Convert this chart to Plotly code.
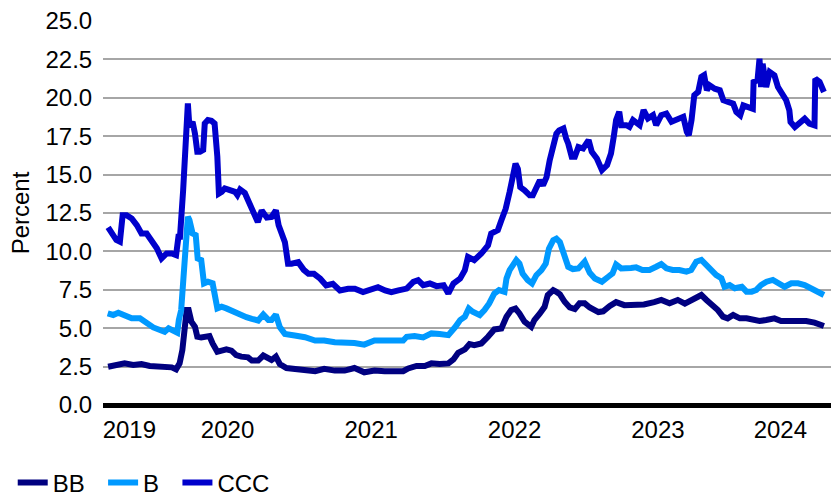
import pandas as pd
import plotly.graph_objects as go

# --- data -----------------------------------------------------------------
bb_dates = [
    "2019-09-02", "2019-09-23", "2019-10-14", "2019-11-05", "2019-11-26", "2019-12-17",
    "2020-01-08", "2020-01-29", "2020-02-11", "2020-02-22", "2020-03-02", "2020-03-09",
    "2020-03-15", "2020-03-20", "2020-03-25", "2020-04-01", "2020-04-10", "2020-04-16",
    "2020-04-26", "2020-05-09", "2020-05-17", "2020-05-25", "2020-06-06", "2020-06-17",
    "2020-06-29", "2020-07-12", "2020-07-24", "2020-08-06", "2020-08-23", "2020-09-02",
    "2020-09-18", "2020-10-01", "2020-10-14", "2020-10-22", "2020-11-02", "2020-11-12",
    "2020-11-29", "2020-12-20", "2021-01-15", "2021-02-10", "2021-03-05", "2021-04-01",
    "2021-04-26", "2021-05-21", "2021-06-15", "2021-07-11", "2021-08-06", "2021-09-01",
    "2021-09-22", "2021-10-05", "2021-10-26", "2021-11-16", "2021-12-03", "2021-12-24",
    "2022-01-15", "2022-01-28", "2022-02-09", "2022-02-26", "2022-03-10", "2022-03-22",
    "2022-04-09", "2022-04-26", "2022-05-12", "2022-05-30", "2022-06-12", "2022-06-24",
    "2022-07-05", "2022-07-15", "2022-07-28", "2022-08-14", "2022-08-22", "2022-09-05",
    "2022-09-17", "2022-09-25", "2022-10-09", "2022-10-17", "2022-10-26", "2022-11-07",
    "2022-11-20", "2022-12-03", "2022-12-15", "2022-12-28", "2023-01-10", "2023-02-01",
    "2023-02-13", "2023-03-02", "2023-03-18", "2023-04-08", "2023-05-03", "2023-05-28",
    "2023-06-23", "2023-07-11", "2023-08-01", "2023-08-22", "2023-09-09", "2023-09-25",
    "2023-10-12", "2023-10-21", "2023-11-03", "2023-11-19", "2023-12-02", "2023-12-15",
    "2023-12-27", "2024-01-10", "2024-01-27", "2024-02-13", "2024-02-29", "2024-03-17",
    "2024-04-03", "2024-04-24", "2024-05-11", "2024-06-02", "2024-06-23", "2024-07-14",
    "2024-08-04", "2024-08-28",
]
bb_values = [
    2.49, 2.60, 2.71, 2.60, 2.67, 2.54,
    2.54, 2.54, 2.45, 2.32, 2.71, 3.58,
    5.31, 6.18, 6.18, 5.42, 5.10, 4.45,
    4.40, 4.45, 4.49, 4.01, 3.47, 3.54,
    3.62, 3.54, 3.25, 3.15, 3.10, 2.89,
    2.89, 3.22, 3.00, 2.93, 3.15, 2.67,
    2.41, 2.35, 2.28, 2.20, 2.35, 2.24,
    2.24, 2.41, 2.13, 2.24, 2.20, 2.20,
    2.20, 2.38, 2.54, 2.54, 2.71, 2.67,
    2.71, 2.97, 3.40, 3.62, 3.97, 3.90,
    4.01, 4.44, 4.92, 4.98, 5.74, 6.18,
    6.28, 5.96, 5.42, 5.09, 5.53, 5.96,
    6.39, 7.15, 7.48, 7.37, 7.20, 6.72,
    6.35, 6.25, 6.62, 6.62, 6.35, 6.05,
    6.10, 6.45, 6.70, 6.50, 6.51, 6.55,
    6.70, 6.84, 6.62, 6.84, 6.60, 6.84,
    7.05, 7.16, 6.84, 6.51, 6.18, 5.75,
    5.64, 5.86, 5.64, 5.64, 5.53, 5.47,
    5.53, 5.64, 5.47, 5.50, 5.53, 5.47,
    5.36, 5.14,
]

b_dates = [
    "2019-09-01", "2019-09-15", "2019-09-28", "2019-10-14", "2019-11-01", "2019-11-22",
    "2019-12-09", "2019-12-26", "2020-01-12", "2020-01-24", "2020-02-03", "2020-02-15",
    "2020-02-25", "2020-02-29", "2020-03-06", "2020-03-12", "2020-03-17", "2020-03-23",
    "2020-03-27", "2020-04-04", "2020-04-12", "2020-04-17", "2020-04-26", "2020-05-03",
    "2020-05-13", "2020-05-25", "2020-06-06", "2020-06-17", "2020-06-29", "2020-07-16",
    "2020-08-03", "2020-08-19", "2020-09-02", "2020-09-18", "2020-10-01", "2020-10-14",
    "2020-10-22", "2020-11-02", "2020-11-12", "2020-11-25", "2020-12-20", "2021-01-15",
    "2021-02-10", "2021-03-05", "2021-04-01", "2021-04-26", "2021-05-21", "2021-06-15",
    "2021-07-11", "2021-08-06", "2021-09-01", "2021-09-22", "2021-10-01", "2021-10-21",
    "2021-11-12", "2021-12-03", "2021-12-24", "2022-01-15", "2022-02-02", "2022-02-14",
    "2022-02-26", "2022-03-08", "2022-03-18", "2022-04-05", "2022-04-17", "2022-04-29",
    "2022-05-12", "2022-05-24", "2022-06-07", "2022-06-12", "2022-06-20", "2022-06-29",
    "2022-07-07", "2022-07-15", "2022-07-23", "2022-08-05", "2022-08-16", "2022-08-27",
    "2022-09-09", "2022-09-20", "2022-09-28", "2022-10-09", "2022-10-17", "2022-10-26",
    "2022-11-04", "2022-11-16", "2022-11-28", "2022-12-12", "2022-12-28", "2023-01-10",
    "2023-01-23", "2023-02-10", "2023-02-26", "2023-03-09", "2023-03-18", "2023-03-31",
    "2023-04-25", "2023-05-08", "2023-05-24", "2023-06-11", "2023-06-28", "2023-07-11",
    "2023-07-24", "2023-08-09", "2023-08-26", "2023-09-13", "2023-09-25", "2023-10-08",
    "2023-10-21", "2023-11-03", "2023-11-15", "2023-11-28", "2023-12-11", "2023-12-19",
    "2024-01-01", "2024-01-14", "2024-02-01", "2024-02-13", "2024-02-26", "2024-03-09",
    "2024-03-21", "2024-04-04", "2024-04-20", "2024-05-03", "2024-05-20", "2024-06-06",
    "2024-06-23", "2024-07-10", "2024-07-27", "2024-08-12", "2024-08-28",
]
b_values = [
    5.97, 5.86, 6.01, 5.79, 5.64, 5.64,
    5.31, 5.05, 4.88, 4.77, 4.99, 4.84,
    4.71, 5.53, 6.18, 8.35, 10.74, 12.26,
    12.04, 11.17, 11.06, 9.54, 9.44, 7.92,
    8.03, 7.92, 6.29, 6.40, 6.29, 6.07,
    5.86, 5.72, 5.61, 5.50, 5.89, 5.54,
    5.54, 5.89, 5.07, 4.63, 4.52, 4.41,
    4.20, 4.20, 4.09, 4.09, 4.04, 3.93,
    4.20, 4.20, 4.15, 4.20, 4.44, 4.49,
    4.40, 4.66, 4.62, 4.55, 5.09, 5.53,
    5.74, 6.28, 6.07, 5.85, 6.18, 6.61,
    7.26, 7.48, 7.37, 8.23, 8.78, 9.10,
    9.43, 9.21, 8.56, 8.13, 7.91, 8.45,
    8.78, 9.21, 10.18, 10.73, 10.83, 10.60,
    9.76, 9.00, 8.85, 8.89, 9.33, 8.60,
    8.24, 8.03, 8.35, 8.57, 9.15, 8.89,
    8.92, 8.96, 8.79, 8.79, 9.00, 9.18,
    8.90, 8.79, 8.79, 8.68, 8.79, 9.33,
    9.44, 9.11, 8.68, 8.46, 8.25, 7.70,
    7.81, 7.60, 7.70, 7.38, 7.38, 7.49,
    7.81, 8.03, 8.14, 7.92, 7.70, 7.92,
    7.92, 7.81, 7.60, 7.38, 7.16,
]

ccc_dates = [
    "2019-09-02", "2019-09-11", "2019-09-23", "2019-10-02", "2019-10-09", "2019-10-19",
    "2019-11-01", "2019-11-14", "2019-11-26", "2019-12-09", "2019-12-17", "2019-12-26",
    "2020-01-04", "2020-01-16", "2020-01-29", "2020-02-11", "2020-02-22", "2020-02-28",
    "2020-03-03", "2020-03-11", "2020-03-18", "2020-03-23", "2020-03-27", "2020-04-04",
    "2020-04-10", "2020-04-16", "2020-04-23", "2020-05-01", "2020-05-05", "2020-05-13",
    "2020-05-22", "2020-05-30", "2020-06-06", "2020-06-10", "2020-06-17", "2020-06-25",
    "2020-07-08", "2020-07-21", "2020-07-27", "2020-08-03", "2020-08-15", "2020-08-25",
    "2020-09-06", "2020-09-17", "2020-09-27", "2020-10-10", "2020-10-22", "2020-11-02",
    "2020-11-09", "2020-11-17", "2020-11-25", "2020-12-03", "2020-12-12", "2020-12-29",
    "2021-01-12", "2021-01-24", "2021-02-07", "2021-02-23", "2021-03-10", "2021-03-27",
    "2021-04-14", "2021-05-05", "2021-05-22", "2021-06-12", "2021-06-29", "2021-07-20",
    "2021-08-07", "2021-08-23", "2021-09-10", "2021-09-22", "2021-10-01", "2021-10-18",
    "2021-10-30", "2021-11-12", "2021-11-29", "2021-12-16", "2022-01-03", "2022-01-15",
    "2022-01-28", "2022-02-14", "2022-02-26", "2022-03-06", "2022-03-22", "2022-04-09",
    "2022-04-26", "2022-05-04", "2022-05-21", "2022-05-30", "2022-06-10", "2022-06-20",
    "2022-06-29", "2022-07-05", "2022-07-11", "2022-07-17", "2022-07-28", "2022-08-10",
    "2022-08-18", "2022-08-27", "2022-09-05", "2022-09-13", "2022-09-22", "2022-09-30",
    "2022-10-09", "2022-10-17", "2022-10-24", "2022-11-04", "2022-11-11", "2022-11-16",
    "2022-11-25", "2022-12-03", "2022-12-12", "2022-12-24", "2023-01-07", "2023-01-15",
    "2023-01-28", "2023-02-10", "2023-02-23", "2023-03-05", "2023-03-12", "2023-03-18",
    "2023-03-26", "2023-03-31", "2023-04-13", "2023-04-21", "2023-04-30", "2023-05-08",
    "2023-05-17", "2023-05-27", "2023-06-07", "2023-06-20", "2023-06-28", "2023-07-11",
    "2023-07-24", "2023-08-06", "2023-08-19", "2023-09-05", "2023-09-14", "2023-09-19",
    "2023-09-26", "2023-10-03", "2023-10-13", "2023-10-21", "2023-10-28", "2023-11-04",
    "2023-11-11", "2023-11-24", "2023-12-07", "2023-12-16", "2023-12-28", "2024-01-10",
    "2024-01-18", "2024-01-28", "2024-02-05", "2024-02-17", "2024-02-29", "2024-03-02",
    "2024-03-12", "2024-03-17", "2024-03-21", "2024-03-25", "2024-04-03", "2024-04-12",
    "2024-04-24", "2024-05-03", "2024-05-15", "2024-05-24", "2024-06-01", "2024-06-04",
    "2024-06-15", "2024-06-27", "2024-07-10", "2024-07-22", "2024-08-04", "2024-08-06",
    "2024-08-17", "2024-08-28",
]
ccc_values = [
    11.56, 11.17, 10.74, 10.63, 12.36, 12.36,
    12.15, 11.71, 11.17, 11.17, 10.85, 10.63,
    10.20, 9.54, 9.87, 9.87, 9.76, 10.95,
    10.95, 13.99, 17.24, 19.63, 18.11, 18.44,
    17.68, 16.49, 16.49, 16.60, 18.33, 18.55,
    18.50, 18.33, 16.16, 13.77, 13.88, 14.10,
    13.99, 13.88, 13.67, 14.03, 13.80, 13.20,
    12.57, 11.91, 12.67, 12.20, 12.24, 12.67,
    11.70, 11.15, 10.60, 9.20, 9.20, 9.30,
    8.80, 8.54, 8.54, 8.22, 7.78, 7.89,
    7.46, 7.57, 7.57, 7.35, 7.46, 7.67,
    7.46, 7.35, 7.46, 7.50, 7.58, 8.02,
    8.13, 7.80, 7.91, 7.74, 7.80, 7.26,
    7.91, 8.23, 8.78, 9.64, 9.43, 9.86,
    10.40, 11.16, 11.38, 12.03, 12.78, 13.87,
    14.84, 15.71, 15.38, 14.19, 13.98, 13.65,
    13.65, 14.08, 14.63, 14.30, 14.84, 15.93,
    16.79, 17.66, 17.88, 18.01, 17.35, 17.03,
    16.16, 16.16, 16.80, 16.70, 17.25, 16.49,
    16.05, 15.29, 15.62, 16.38, 17.46, 18.55,
    19.09, 18.22, 18.22, 18.11, 18.55, 18.44,
    18.22, 19.20, 18.66, 18.87, 18.22, 18.87,
    18.98, 18.44, 18.55, 18.76, 17.79, 17.57,
    18.55, 20.17, 20.39, 21.37, 21.48, 20.49,
    20.81, 20.59, 20.49, 19.84, 19.73, 19.62,
    19.08, 18.86, 19.51, 19.40, 19.29, 21.03,
    21.14, 22.54, 20.70, 22.22, 20.70, 21.68,
    21.46, 20.70, 20.27, 19.84, 19.18, 18.43,
    18.10, 18.32, 18.64, 18.32, 18.21, 21.24,
    21.03, 20.38,
]

year_labels = ["2019", "2020", "2021", "2022", "2023", "2024"]
y_ticks = [0.0, 2.5, 5.0, 7.5, 10.0, 12.5, 15.0, 17.5, 20.0, 22.5, 25.0]
x_start, x_end = "2019-08-20", "2024-09-15"

# --- styling --------------------------------------------------------------
FONT = "Liberation Sans, Arial, sans-serif"
FS = 24
PAD = "\u00a0\u00a0"  # extra room after each legend label
series = [
    ("BB", bb_dates, bb_values, "#000080"),
    ("B", b_dates, b_values, "#0099FF"),
    ("CCC", ccc_dates, ccc_values, "#0000CC"),
]

# year labels sit in the middle of the visible part of each year
lo_range, hi_range = pd.Timestamp(x_start), pd.Timestamp(x_end)
tick_vals = []
for lab in year_labels:
    y0 = max(pd.Timestamp(f"{lab}-01-01"), lo_range)
    y1 = min(pd.Timestamp(f"{int(lab) + 1}-01-01"), hi_range)
    tick_vals.append(y0 + (y1 - y0) / 2)

fig = go.Figure()
for name, xs, ys, color in series:
    fig.add_trace(go.Scatter(
        x=pd.to_datetime(xs), y=ys, name=name + PAD, mode="lines",
        line=dict(color=color, width=6),
    ))

fig.update_layout(
    width=831, height=497,
    margin=dict(l=103, r=0, t=21, b=92, autoexpand=False),
    paper_bgcolor="white", plot_bgcolor="white",
    font=dict(family=FONT, size=FS, color="black"),
    showlegend=True,
    legend=dict(
        orientation="h", x=-0.124, xanchor="left", y=-0.203, yanchor="middle",
        font=dict(family=FONT, size=FS, color="black"),
        bgcolor="rgba(0,0,0,0)", traceorder="normal",
    ),
    xaxis=dict(
        range=[x_start, x_end], tickmode="array", tickvals=tick_vals,
        ticktext=year_labels, showgrid=False, zeroline=False, showline=False,
        ticks="outside", ticklen=3, tickcolor="rgba(0,0,0,0)",
        tickfont=dict(family=FONT, size=FS, color="black"),
    ),
    yaxis=dict(
        range=[0, 25], tickmode="array", tickvals=y_ticks,
        ticktext=[f"{v:.1f}" for v in y_ticks],
        showgrid=True, gridcolor="#A6A6A6", gridwidth=2,
        zeroline=True, zerolinecolor="black", zerolinewidth=5,
        showline=False,
        ticks="outside", ticklen=5, tickcolor="rgba(0,0,0,0)",
        tickfont=dict(family=FONT, size=FS, color="black"),
        title=dict(text="Percent", standoff=9,
                   font=dict(family=FONT, size=FS, color="black")),
    ),
)

fig.write_html("out.html")
